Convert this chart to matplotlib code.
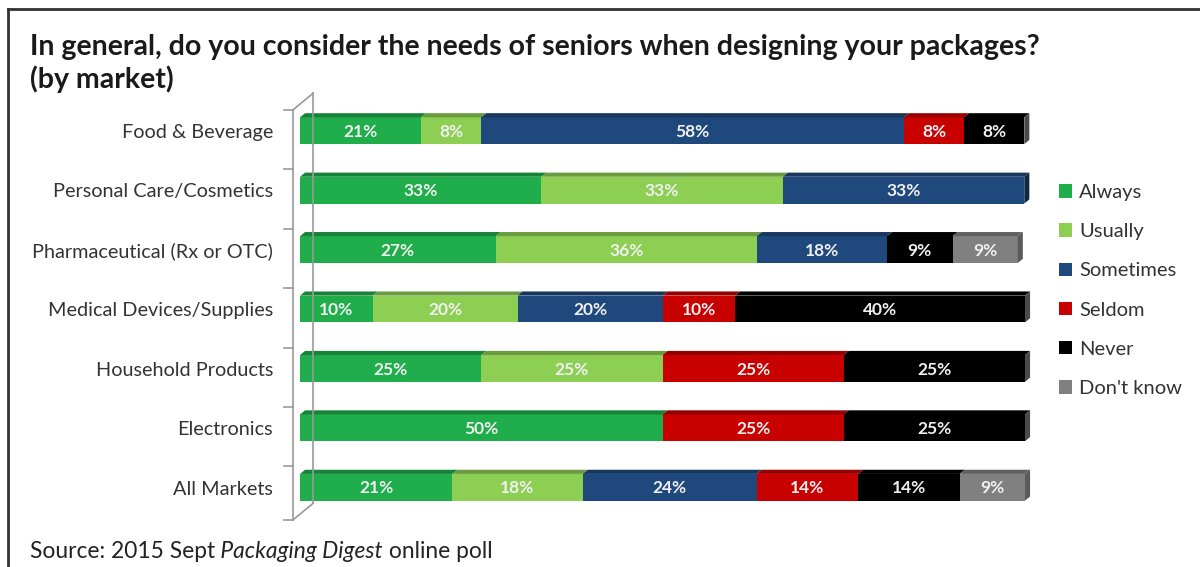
import matplotlib
matplotlib.use("agg")
import matplotlib.pyplot as plt
from matplotlib.patches import Polygon, Patch
from matplotlib.lines import Line2D
import matplotlib.colors as mcolors

plt.rcParams["font.family"] = ["Lato", "DejaVu Sans"]

markets = ["Food & Beverage", "Personal Care/Cosmetics", "Pharmaceutical (Rx or OTC)",
           "Medical Devices/Supplies", "Household Products", "Electronics", "All Markets"]
answers = ["Always", "Usually", "Sometimes", "Seldom", "Never", "Don't know"]
colors = ["#1fae4b", "#8dcf52", "#1f497d", "#c80000", "#000000", "#808080"]

# segment widths as drawn (percent of each bar)
always = [16.7, 33.3, 27, 10, 25, 50, 21]
usually = [8.3, 33.3, 36, 20, 25, 0, 18]
sometimes = [58.3, 33.3, 18, 20, 0, 0, 24]
seldom = [8.3, 0, 0, 10, 25, 25, 14]
never = [8.3, 0, 9, 40, 25, 25, 14]
dont_know = [0, 0, 9, 0, 0, 0, 9]

# labels printed on the bars
lbl_always = ["21%", "33%", "27%", "10%", "25%", "50%", "21%"]
lbl_usually = ["8%", "33%", "36%", "20%", "25%", "", "18%"]
lbl_sometimes = ["58%", "33%", "18%", "20%", "", "", "24%"]
lbl_seldom = ["8%", "", "", "10%", "25%", "25%", "14%"]
lbl_never = ["8%", "", "9%", "40%", "25%", "25%", "14%"]
lbl_dont_know = ["", "", "9%", "", "", "", "9%"]

series = [always, usually, sometimes, seldom, never, dont_know]
labels = [lbl_always, lbl_usually, lbl_sometimes, lbl_seldom, lbl_never, lbl_dont_know]


def darker(c, f=0.72):
    r, g, b = mcolors.to_rgb(c)
    return (r * f, g * f, b * f)


W, H = 1200, 567
fig = plt.figure(figsize=(12, 5.67), dpi=100)
ax = fig.add_axes([300 / W, (H - 517) / H, 725 / W, 416 / H])
ax.set_xlim(0, 100)
ax.set_ylim(6.5, -0.5)
ax.axis("off")

bh = 0.45
dx, dy = 0.7, 0.07
for row in range(len(markets)):
    left = 0
    last = None
    for vals, lbls, col in zip(series, labels, colors):
        v = vals[row]
        if v <= 0:
            continue
        ax.barh(row, v, left=left, height=bh, color=col, edgecolor="none")
        top = row - bh / 2
        ax.add_patch(Polygon([(left, top), (left + dx, top - dy), (left + v + dx, top - dy),
                              (left + v, top)], closed=True, color=darker(col, 0.75),
                             lw=0, clip_on=False))
        ax.text(left + v / 2, row + 0.02, lbls[row], ha="center", va="center",
                color="#f0f0f0", fontsize=12.5, fontweight="bold")
        left += v
        last = col
    side = "#4a4a4a" if last == "#000000" else darker(last, 0.55)
    if last == "#808080":
        side = "#5a5a5a"
    top = row - bh / 2
    ax.add_patch(Polygon([(left, top), (left + dx, top - dy), (left + dx, row + bh / 2 - dy),
                          (left, row + bh / 2)], closed=True, color=side, lw=0, clip_on=False))
    ax.text(-3.7, row + 0.03, markets[row], ha="right", va="center", fontsize=14.3,
            color="#333333")

# 3D axis wall
wall = "#999999"
xf, xb = -0.97, 1.8
ax.plot([xf, xf], [-0.35, 6.55], color=wall, lw=1.2, clip_on=False)
ax.plot([xb, xb], [-0.63, 6.27], color=wall, lw=1.2, clip_on=False)
ax.plot([xf, xb], [-0.35, -0.63], color=wall, lw=1.2, clip_on=False)
ax.plot([xf, xb], [6.55, 6.27], color=wall, lw=1.2, clip_on=False)
for k in range(len(markets) + 1):
    yk = k - 0.35 if k < len(markets) else 6.55
    ax.plot([xf - 1.3, xf], [yk, yk], color=wall, lw=1.2, clip_on=False)

handles = [Patch(facecolor=c, edgecolor="none") for c in colors]
fig.legend(handles, answers, loc="upper left", bbox_to_anchor=(1041 / W, 1 - 166 / H),
           frameon=False, fontsize=14.5, handlelength=0.65, handleheight=0.65,
           handletextpad=0.35, labelspacing=1.1, labelcolor="#333333")

fig.text(30 / W, 1 - 47 / H,
         "In general, do you consider the needs of seniors when designing your packages?",
         fontsize=20.5, fontweight="bold", va="center", color="#1a1a1a")
fig.text(30 / W, 1 - 79 / H, "(by market)", fontsize=20.5, fontweight="bold",
         va="center", color="#1a1a1a")

t1 = fig.text(30 / W, 1 - 558 / H, "Source: 2015 Sept", fontsize=16.4, color="#222222",
              va="baseline")
a2 = plt.annotate(" Packaging Digest", xy=(1, 0), xycoords=t1, va="bottom", ha="left",
                  fontsize=16.4, style="italic", color="#222222", annotation_clip=False)
a3 = plt.annotate(" online poll", xy=(1, 0), xycoords=a2, va="bottom", ha="left",
                  fontsize=16.4, color="#222222", annotation_clip=False)

fig.add_artist(Line2D([8 / W, 1], [1 - 9 / H, 1 - 9 / H], color="#333333", lw=2))
fig.add_artist(Line2D([8 / W, 8 / W], [0, 1 - 9 / H], color="#333333", lw=2))

fig.savefig("out.png", dpi=100)
plt.close(fig)
